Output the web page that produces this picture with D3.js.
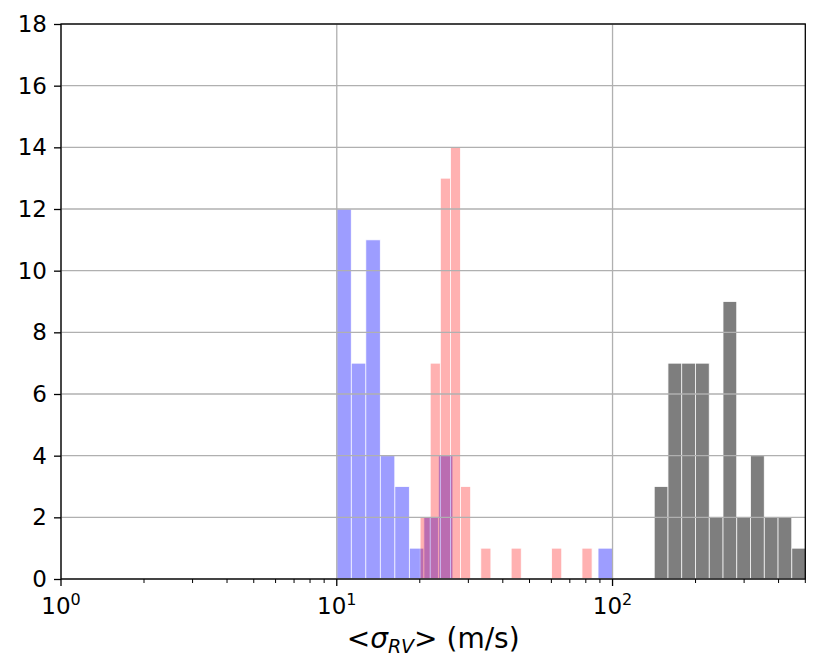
<!DOCTYPE html>
<html><head><meta charset="utf-8">
<script src="https://cdn.jsdelivr.net/npm/d3@7"></script>
<style>body{margin:0;background:#fff}svg{display:block}text{font-family:"DejaVu Sans",sans-serif}</style>
</head><body><svg id="c" width="828" height="671"></svg>
<script>
// Histogram counts per log-spaced bin
const blueCounts = [12,7,11,4,3,1,2,4,0,0,0,0,0,0,0,0,0,0,1];
const blueRange = [10, 100];
const redCounts = [2,7,13,14,3,0,1,0,0,1,0,0,0,1,0,0,1];
const redRange = [20.05, 84.3];
const grayCounts = [3,7,7,7,2,9,2,4,2,2,1];
const grayRange = [141.6, 501];
const yTicks = [0,2,4,6,8,10,12,14,16,18];
const xTicks = [1,10,100];
const xTickExp = ["0","1","2"];

const W = 828, H = 671;
const m = {l:61, r:805.3, t:24, b:579};
const svg = d3.select("#c");
const x = d3.scaleLog().domain([1, 500]).range([m.l, m.r]);
const y = d3.scaleLinear().domain([0, 18]).range([m.b, m.t]);

function edges(range, n){
  const a = Math.log10(range[0]), b = Math.log10(range[1]);
  return d3.range(n+1).map(i => Math.pow(10, a + (b-a)*i/n));
}
function series(counts, range, color, op){
  const e = edges(range, counts.length);
  const data = counts.map((c,i)=>({x0:e[i], x1:e[i+1], c})).filter(d=>d.c>0);
  svg.append("g").selectAll("rect").data(data).join("rect")
    .attr("x", d=>x(d.x0)).attr("width", d=>x(d.x1)-x(d.x0))
    .attr("y", d=>y(d.c)).attr("height", d=>y(0)-y(d.c))
    .attr("fill", color).attr("stroke","#fff").attr("stroke-width",0.8)
    .attr("opacity", op);
}
series(blueCounts, blueRange, "blue", 0.38);
series(redCounts, redRange, "red", 0.3);
series(grayCounts, grayRange, "black", 0.5);

// grid
const g = svg.append("g").attr("stroke","#b0b0b0").attr("stroke-width",1.3);
yTicks.forEach(t=>{ g.append("line").attr("x1",m.l).attr("x2",m.r).attr("y1",y(t)).attr("y2",y(t)); });
xTicks.forEach(t=>{ g.append("line").attr("x1",x(t)).attr("x2",x(t)).attr("y1",m.t).attr("y2",m.b); });

// axes
const yAxis = d3.axisLeft(y).tickValues(yTicks).tickSize(7).tickPadding(7);
const ya = svg.append("g").attr("transform",`translate(${m.l},0)`).call(yAxis);
ya.select(".domain").remove();
ya.selectAll("text").attr("font-size",23).attr("fill","#000").attr("font-family","DejaVu Sans");
ya.selectAll("line").attr("stroke","#000").attr("stroke-width",1.3);

const minor = [];
for (let dcd of [1,10,100]) for (let k=2;k<=9;k++){ const v=dcd*k; if(v<=500) minor.push(v); }
const xa = svg.append("g").attr("transform",`translate(0,${m.b})`);
xa.selectAll("line.maj").data(xTicks).join("line").attr("class","maj")
  .attr("x1",d=>x(d)).attr("x2",d=>x(d)).attr("y1",0).attr("y2",7).attr("stroke","#000").attr("stroke-width",1.3);
xa.selectAll("line.min").data(minor).join("line").attr("class","min")
  .attr("x1",d=>x(d)).attr("x2",d=>x(d)).attr("y1",0).attr("y2",4).attr("stroke","#000").attr("stroke-width",1);
const lab = xa.selectAll("text").data(xTicks).join("text")
  .attr("x",d=>x(d)).attr("y",35).attr("text-anchor","middle").attr("font-size",23).attr("fill","#000");
lab.append("tspan").text("10");
lab.append("tspan").attr("dy",-9).attr("font-size",16).text((d,i)=>xTickExp[i]);

// frame
svg.append("rect").attr("x",m.l).attr("y",m.t).attr("width",m.r-m.l).attr("height",m.b-m.t)
  .attr("fill","none").attr("stroke","#000").attr("stroke-width",1.3);

// x label
const xl = svg.append("text").attr("x",(m.l+m.r)/2).attr("y",648).attr("text-anchor","middle")
  .attr("font-size",28).attr("fill","#000");
xl.append("tspan").text("<");
xl.append("tspan").attr("font-style","italic").text("σ");
xl.append("tspan").attr("font-style","italic").attr("font-size",19).attr("dy",5).text("RV");
xl.append("tspan").attr("dy",-5).text("> (m/s)");
</script></body></html>
